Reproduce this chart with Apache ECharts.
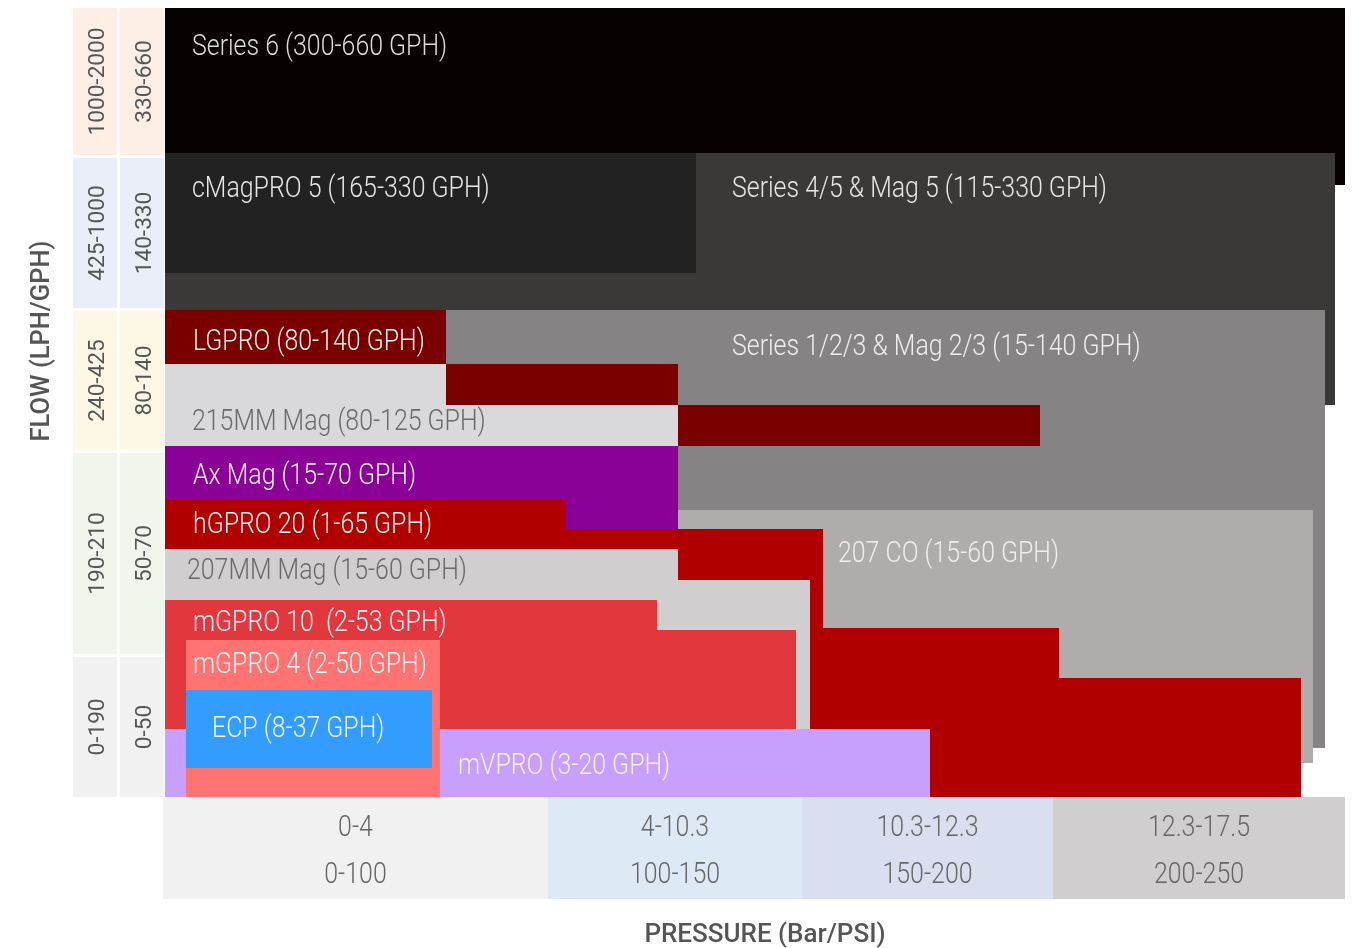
<!DOCTYPE html>
<html>
<head>
<meta charset="utf-8">
<script src="https://cdn.jsdelivr.net/npm/echarts@6/dist/echarts.min.js"></script>
<style>
html,body{margin:0;padding:0;background:#fff;}
#chart{width:1356px;height:948px;}
</style>
</head>
<body>
<div id="chart"></div>
<script>
// ---------- DATA (chart units: x = pressure position across plot, y = flow position from bottom) ----------
const pressureBar = ['0-4', '4-10.3', '10.3-12.3', '12.3-17.5'];
const pressurePsi = ['0-100', '100-150', '150-200', '200-250'];
const pressureBands = [[-2, 383], [383, 637], [637, 888], [888, 1180]];

const flowLph = ['1000-2000', '425-1000', '240-425', '190-210', '0-190'];
const flowGph = ['330-660', '140-330', '80-140', '50-70', '0-50'];
const flowBands = [[642, 789], [489, 639], [347, 486], [143, 344], [0, 140]];

// products, bottom-most drawn first
const products = [
  'Series 6 (300-660 GPH)',
  'Series 4/5 & Mag 5 (115-330 GPH)',
  'cMagPRO 5 (165-330 GPH)',
  'Series 1/2/3 & Mag 2/3 (15-140 GPH)',
  '207 CO (15-60 GPH)',
  'LGPRO (80-140 GPH)',
  '215MM Mag (80-125 GPH)',
  'Ax Mag (15-70 GPH)',
  'hGPRO 20 (1-65 GPH)',
  '207MM Mag (15-60 GPH)',
  'mGPRO 10  (2-53 GPH)',
  'mVPRO (3-20 GPH)',
  'mGPRO 4 (2-50 GPH)',
  'ECP (8-37 GPH)'
];
// each product's coverage: list of [xFrom, xTo, yFrom, yTo]
const productRanges = [
  [[0, 1180, 612, 789]],
  [[0, 1170, 392, 644]],
  [[0, 531, 524, 644]],
  [[0, 1160, 49, 487]],
  [[513, 1148, 34, 287]],
  [[0, 281, 433, 487], [281, 513, 392, 433], [513, 875, 351, 392]],
  [[0, 281, 392, 433], [0, 513, 351, 392]],
  [[0, 513, 268, 351]],
  [[0, 401, 248, 298], [0, 658, 248, 268], [513, 658, 169, 268], [645, 894, 0, 169], [645, 1136, 0, 119]],
  [[0, 513, 68, 248], [513, 645, 68, 217]],
  [[0, 492, 68, 197], [492, 631, 68, 167]],
  [[0, 765, 0, 68]],
  [[21, 275, 0, 157]],
  [[21, 267, 29, 107]]
];
// label anchor (left, middle) for each product
const productLabelAt = [
  [27, 750], [567, 608], [27, 608], [567, 450], [673, 243],
  [28, 455], [27, 375], [28, 321], [28, 272], [22, 226],
  [28, 174], [293, 31], [28, 132], [47, 68]
];

// ---------- STYLES ----------
const productColors = ['#080102', '#3a3938', '#222222', '#858384', '#afacab', '#7a0000', '#d9d9dc',
  '#8b0096', '#b00000', '#d0cecf', '#e3373e', '#c89ffc', '#ff7373', '#339cff'];
const productTextColors = ['#dcdcdc', '#e6e6e6', '#e6e6e6', '#eeeeee', '#eeeeee', '#f2f2f2', '#6a6a6a',
  '#f4f4f4', '#f4f4f4', '#6a6a6a', '#f4f4f4', '#f6f0ff', '#f6f6f6', '#eef6ff'];
const flowBandColors = ['#fdeee6', '#e9eef8', '#fdf8e6', '#f1f6ec', '#f1f1f1'];
const pressureBandColors = ['#f1f1f1', '#dde9f5', '#dadff0', '#d0cecf'];
const flowCols = [[-92, -48], [-45, -1]];
const pressureRows = [-102, 0];
const pressureLineY = [-31, -78];
const LABEL_FONT = '300 30px Roboto, "Open Sans", sans-serif';

// ---------- BUILD ----------
const rectData = [];
const rectColors = [];
function addRect(r, color) { rectColors.push(color); rectData.push([r[0], r[1], r[2], r[3], rectColors.length - 1]); }
flowBands.forEach((b, i) => {
  flowCols.forEach(c => addRect([c[0], c[1], b[0], b[1]], flowBandColors[i]));
});
pressureBands.forEach((b, i) => addRect([b[0], b[1], pressureRows[0], pressureRows[1]], pressureBandColors[i]));
productRanges.forEach((list, i) => list.forEach(r => addRect(r, productColors[i])));

const texts = [];
const textData = [];
function addText(x, y, t) { texts.push(t); textData.push([x, y, texts.length - 1]); }
products.forEach((p, i) => addText(productLabelAt[i][0], productLabelAt[i][1],
  { text: p, fill: productTextColors[i], font: LABEL_FONT, align: 'left', rot: 0, sx: 0.83 }));
flowBands.forEach((b, i) => {
  const yc = (b[0] + b[1]) / 2;
  addText((flowCols[0][0] + flowCols[0][1]) / 2 + 3, yc, { text: flowLph[i], fill: '#555', font: '400 22px Roboto, sans-serif', align: 'center', rot: Math.PI / 2, sx: 1.03 });
  addText((flowCols[1][0] + flowCols[1][1]) / 2 + 3, yc, { text: flowGph[i], fill: '#555', font: '400 22px Roboto, sans-serif', align: 'center', rot: Math.PI / 2, sx: 1.03 });
});
pressureBands.forEach((b, i) => {
  const xc = (b[0] + b[1]) / 2;
  addText(xc, pressureLineY[0], { text: pressureBar[i], fill: '#666', font: LABEL_FONT, align: 'center', rot: 0, sx: 0.83 });
  addText(xc, pressureLineY[1], { text: pressurePsi[i], fill: '#666', font: LABEL_FONT, align: 'center', rot: 0, sx: 0.83 });
});
addText(-122, 456, { text: 'FLOW (LPH/GPH)', fill: '#555', font: '500 25px Roboto, sans-serif', align: 'center', rot: Math.PI / 2, sx: 1.02 });
addText(600, -138, { text: 'PRESSURE (Bar/PSI)', fill: '#555', font: '500 26px Roboto, sans-serif', align: 'center', rot: 0, sx: 1.0 });

const chart = echarts.init(document.getElementById('chart'), null, { renderer: 'canvas' });
chart.setOption({
  animation: false,
  backgroundColor: '#ffffff',
  grid: { left: 165, top: 8, width: 1180, height: 789 },
  xAxis: { type: 'value', min: 0, max: 1180, show: false },
  yAxis: { type: 'value', min: 0, max: 789, show: false },
  series: [
    {
      type: 'custom', clip: false, silent: true,
      data: rectData,
      encode: { x: [0, 1], y: [2, 3] },
      renderItem: function (params, api) {
        const tl = api.coord([api.value(0), api.value(3)]);
        const br = api.coord([api.value(1), api.value(2)]);
        const x = Math.round(tl[0]), y = Math.round(tl[1]);
        return {
          type: 'rect',
          shape: { x: x, y: y, width: Math.round(br[0]) - x, height: Math.round(br[1]) - y },
          style: { fill: rectColors[api.value(4)] }
        };
      }
    },
    {
      type: 'custom', clip: false, silent: true,
      data: textData,
      encode: { x: 0, y: 1 },
      renderItem: function (params, api) {
        const t = texts[api.value(2)];
        const p = api.coord([api.value(0), api.value(1)]);
        return {
          type: 'text',
          x: p[0], y: p[1],
          rotation: t.rot,
          scaleX: t.sx, scaleY: 1,
          style: {
            x: 0, y: 0,
            text: t.text, fill: t.fill, font: t.font,
            align: t.align, verticalAlign: 'middle',
            textAlign: t.align, textVerticalAlign: 'middle'
          }
        };
      }
    }
  ]
});
</script>
</body>
</html>
